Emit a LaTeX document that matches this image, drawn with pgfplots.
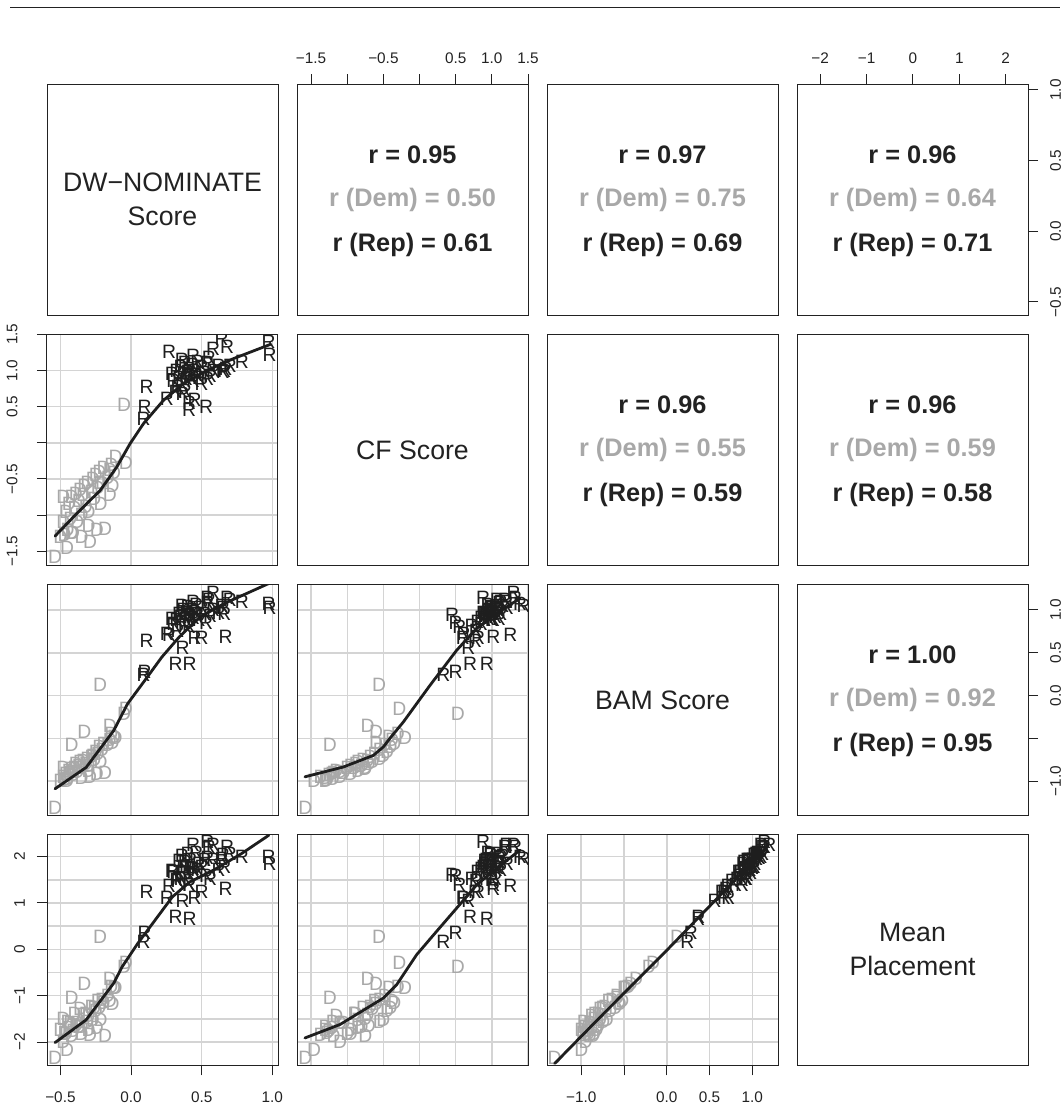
\documentclass[border=0pt]{standalone}
\usepackage{pgfplots}
\pgfplotsset{compat=1.18}
\usepackage{pgfplotstable}
\usepackage{fontspec}
\setmainfont{Liberation Sans}
\definecolor{axcol}{HTML}{222222}
\definecolor{demcol}{HTML}{A8A8A8}
\definecolor{repcol}{HTML}{1E1E1E}
\definecolor{gridcol}{HTML}{D4D4D4}
\newcommand\tickfont{\fontsize{11.5}{12}\selectfont}
\newcommand\markfont{\fontsize{14.5}{14.5}\selectfont}
\newcommand\rfont{\fontsize{19}{20}\selectfont\bfseries}
\newcommand\labfont{\fontsize{20}{25.5}\selectfont}

\pgfplotstableread{
dw cf bam mp
-0.538 -1.58 -1.31 -2.34
-0.453 -1.46 -1.00 -2.16
-0.500 -1.30 -1.00 -1.73
-0.480 -1.10 -0.95 -1.99
-0.470 -1.28 -0.98 -1.79
-0.460 -0.95 -0.92 -1.83
-0.450 -1.20 -0.97 -1.57
-0.440 -0.85 -0.88 -1.70
-0.430 -1.05 -0.90 -1.59
-0.420 -0.75 -0.86 -1.87
-0.410 -1.25 -0.93 -1.75
-0.400 -0.90 -0.84 -1.38
-0.390 -0.70 -0.80 -1.65
-0.380 -1.10 -0.89 -1.59
-0.370 -0.80 -0.82 -1.66
-0.360 -0.65 -0.78 -1.29
-0.350 -1.00 -0.85 -1.82
-0.340 -0.72 -0.76 -1.41
-0.330 -0.60 -0.42 -0.74
-0.320 -0.88 -0.80 -1.38
-0.310 -0.55 -0.74 -1.57
-0.300 -1.15 -0.88 -1.43
-0.290 -1.37 -0.95 -1.85
-0.280 -0.68 -0.72 -1.25
-0.270 -0.50 -0.70 -1.52
-0.260 -0.78 -0.75 -1.26
-0.250 -0.45 -0.66 -1.32
-0.243 -1.21 -0.92 -1.69
-0.235 -0.62 -0.68 -1.12
-0.225 -0.40 -0.60 -1.27
-0.215 -0.85 -0.78 -1.52
-0.205 -0.55 -0.64 -1.08
-0.195 -0.35 -0.56 -1.15
-0.184 -1.19 -0.90 -1.87
-0.150 -0.72 -0.36 -0.64
-0.165 -0.48 -0.58 -1.01
-0.150 -0.38 -0.52 -1.10
-0.140 -0.30 -0.45 -0.80
-0.130 -0.60 -0.55 -1.18
-0.120 -0.42 -0.48 -0.84
-0.110 -0.20 -0.50 -0.82
-0.220 -0.56 0.12 0.27
-0.037 -0.28 -0.16 -0.30
-0.050 0.53 -0.21 -0.37
-0.480 -0.75 -0.85 -1.50
-0.350 -1.30 -0.96 -1.68
-0.300 -0.95 -0.82 -1.74
-0.420 -1.24 -0.58 -1.04
}\dem

\pgfplotstableread{
dw cf bam mp
0.088 0.33 0.24 0.17
0.095 0.50 0.28 0.36
0.110 0.77 0.644 1.24
0.253 0.61 0.72 1.10
0.270 1.255 0.71 1.36
0.289 0.95 0.90 1.70
0.316 0.70 0.37 0.71
0.414 0.93 0.37 0.66
0.365 0.675 0.56 1.05
0.410 0.45 0.94 1.60
0.532 0.50 0.85 1.58
0.680 1.32 1.14 2.21
0.700 1.07 1.12 2.05
0.785 1.12 1.10 2.00
0.973 1.39 1.07 1.99
0.980 1.21 1.03 1.85
0.540 0.88 1.14 2.31
0.580 1.30 1.20 2.25
0.640 1.44 1.05 1.95
0.450 0.60 0.67 1.10
0.500 0.81 0.67 1.25
0.670 1.02 0.69 1.30
0.300 0.85 0.84 1.68
0.320 1.00 0.88 1.50
0.340 0.90 0.95 1.91
0.350 1.05 0.92 1.53
0.360 0.80 0.86 1.67
0.370 0.95 1.00 1.78
0.380 1.10 0.90 1.89
0.390 0.88 0.97 1.77
0.400 0.98 1.04 2.06
0.410 1.02 0.88 1.40
0.420 0.92 0.94 1.92
0.430 1.08 1.00 1.76
0.440 0.85 0.91 1.74
0.450 1.00 0.98 1.66
0.460 0.94 1.06 2.07
0.470 1.12 0.95 1.71
0.480 0.90 0.89 1.85
0.500 1.05 1.02 1.78
0.520 0.97 0.96 1.94
0.540 1.10 1.08 1.97
0.560 0.92 0.93 1.53
0.580 1.00 1.00 1.94
0.620 1.06 0.97 1.72
0.380 0.72 0.82 1.52
0.410 0.55 0.80 1.40
0.360 1.15 1.05 2.02
0.550 1.18 1.12 2.20
0.330 0.78 0.76 1.48
0.650 0.98 1.02 2.04
0.440 1.20 1.10 2.25
0.660 0.99 0.95 1.78
}\rep

\pgfplotsset{
  panel/.style={scale only axis, width=173.25pt, height=173.25pt, anchor=north west,
    axis line style={draw=axcol, line width=0.75pt},
    tick style={draw=axcol, line width=0.75pt},
    major tick length=7.5pt, minor tick length=0pt, tick align=outside,
    ticklabel style={font=\tickfont, text=axcol},
    xtick=\empty, ytick=\empty, clip marker paths=true,
    grid style={draw=gridcol, line width=1.1pt},
    minor grid style={draw=gridcol, line width=1.1pt}},
  dwX/.style={xmin=-0.595, xmax=1.04},
  dwY/.style={ymin=-0.595, ymax=1.04},
  cfX/.style={xmin=-1.695, xmax=1.50},
  cfY/.style={ymin=-1.695, ymax=1.50},
  bamX/.style={xmin=-1.40, xmax=1.30},
  bamY/.style={ymin=-1.40, ymax=1.30},
  mpX/.style={xmin=-2.50, xmax=2.48},
  mpY/.style={ymin=-2.50, ymax=2.48},
  dwgX/.style={xtick={-0.5,0,0.5,1}},
  cfgX/.style={xtick={-1.5,-1,-0.5,0,0.5,1,1.5}},
  cfgY/.style={ytick={-1.5,-1,-0.5,0,0.5,1,1.5}},
  bamgX/.style={xtick={-1,-0.5,0,0.5,1}},
  bamgY/.style={ytick={-1,-0.5,0,0.5,1}},
  mpgY/.style={ytick={-2,-1,0,1,2}, minor ytick={-1.5,-0.5,0.5,1.5}},
  noxt/.style={xtick style={draw=none}, xticklabels={}},
  noyt/.style={ytick style={draw=none}, yticklabels={}},
  botx/.style={xtick pos=left, xticklabel pos=left, xticklabel shift=9pt},
  topx/.style={xtick pos=right, xticklabel pos=right, xticklabel shift=4.3pt},
  lefty/.style={ytick pos=left, yticklabel pos=left, yticklabel style={rotate=90, anchor=south}},
  righty/.style={ytick pos=right, yticklabel pos=right, yticklabel style={rotate=90, anchor=north}, yticklabel shift=5.5pt},
  dmark/.style={only marks, mark=text, text mark={\markfont D}, text mark as node=true, color=demcol},
  rmark/.style={only marks, mark=text, text mark={\markfont R}, text mark as node=true, color=repcol},
  lw/.style={color=repcol, line width=2.1pt, line join=round, line cap=round}
}

\newcommand{\rtexts}[3]{%
  \node[font=\rfont, text=axcol] at ([yshift=33.75pt]rel axis cs:0.5,0.5) {r = #1};
  \node[font=\rfont, text=demcol] at (rel axis cs:0.5,0.5) {r (Dem) = #2};
  \node[font=\rfont, text=axcol] at ([yshift=-33.75pt]rel axis cs:0.5,0.5) {r (Rep) = #3};}

\begin{document}
\begin{tikzpicture}
\useasboundingbox (0,0) rectangle (795pt,840pt);
\draw[axcol, line width=1.2pt] (7.5pt,834.4pt) -- (795pt,834.4pt);

% ---------- row 1
\begin{axis}[panel, at={(35.25pt,776.75pt)}, xmin=0, xmax=1, ymin=0, ymax=1]
\node[font=\labfont, text=axcol, align=center] at (rel axis cs:0.5,0.5) {DW−NOMINATE\\Score};
\end{axis}
\begin{axis}[panel, at={(222.75pt,776.75pt)}, cfX, ymin=0, ymax=1, cfgX, topx,
  xticklabels={{−1.5},{},{−0.5},{},{0.5},{1.0},{1.5}}]
\rtexts{0.95}{0.50}{0.61}
\end{axis}
\begin{axis}[panel, at={(410.25pt,776.75pt)}, xmin=0, xmax=1, ymin=0, ymax=1]
\rtexts{0.97}{0.75}{0.69}
\end{axis}
\begin{axis}[panel, at={(597.75pt,776.75pt)}, mpX, dwY, xtick={-2,-1,0,1,2}, topx,
  xticklabels={{−2},{−1},{0},{1},{2}}, ytick={-0.5,0,0.5,1}, righty,
  yticklabels={{−0.5},{0.0},{0.5},{1.0}}]
\rtexts{0.96}{0.64}{0.71}
\end{axis}

% ---------- row 2
\begin{axis}[panel, at={(35.25pt,589.25pt)}, dwX, cfY, dwgX, cfgY, grid=major, noxt, lefty,
  yticklabel shift=11pt,
  yticklabels={{−1.5},{},{−0.5},{},{0.5},{1.0},{1.5}}]
\addplot[dmark] table[x=dw, y=cf]{\dem};
\addplot[rmark] table[x=dw, y=cf]{\rep};
\addplot[lw] coordinates {(-0.538,-1.29) (-0.385,-0.98) (-0.219,-0.66) (-0.101,-0.335) (-0.007,-0.012) (0.088,0.265) (0.229,0.587) (0.371,0.818) (0.537,1.00) (0.725,1.164) (0.985,1.36)};
\end{axis}
\begin{axis}[panel, at={(222.75pt,589.25pt)}, xmin=0, xmax=1, ymin=0, ymax=1]
\node[font=\labfont, text=axcol] at (rel axis cs:0.5,0.5) {CF Score};
\end{axis}
\begin{axis}[panel, at={(410.25pt,589.25pt)}, xmin=0, xmax=1, ymin=0, ymax=1]
\rtexts{0.96}{0.55}{0.59}
\end{axis}
\begin{axis}[panel, at={(597.75pt,589.25pt)}, xmin=0, xmax=1, ymin=0, ymax=1]
\rtexts{0.96}{0.59}{0.58}
\end{axis}

% ---------- row 3
\begin{axis}[panel, at={(35.25pt,401.75pt)}, dwX, bamY, dwgX, bamgY, grid=major, noxt, noyt]
\addplot[dmark] table[x=dw, y=bam]{\dem};
\addplot[rmark] table[x=dw, y=bam]{\rep};
\addplot[lw] coordinates {(-0.538,-1.09) (-0.318,-0.84) (-0.123,-0.41) (-0.025,-0.097) (0.097,0.176) (0.218,0.45) (0.34,0.683) (0.487,0.917) (0.658,1.074) (0.975,1.31)};
\end{axis}
\begin{axis}[panel, at={(222.75pt,401.75pt)}, cfX, bamY, cfgX, bamgY, grid=major, noxt, noyt]
\addplot[dmark] table[x=cf, y=bam]{\dem};
\addplot[rmark] table[x=cf, y=bam]{\rep};
\addplot[lw] coordinates {(-1.585,-0.95) (-1.054,-0.835) (-0.64,-0.70) (-0.50,-0.60) (-0.41,-0.50) (-0.225,-0.31) (0.145,0.12) (0.514,0.53) (0.79,0.785) (1.067,0.96) (1.39,1.136)};
\end{axis}
\begin{axis}[panel, at={(410.25pt,401.75pt)}, xmin=0, xmax=1, ymin=0, ymax=1]
\node[font=\labfont, text=axcol] at (rel axis cs:0.5,0.5) {BAM Score};
\end{axis}
\begin{axis}[panel, at={(597.75pt,401.75pt)}, xmin=0, xmax=1, bamY, bamgY, righty,
  yticklabels={{−1.0},{},{0.0},{0.5},{1.0}}]
\rtexts{1.00}{0.92}{0.95}
\end{axis}

% ---------- row 4
\begin{axis}[panel, at={(35.25pt,214.25pt)}, dwX, mpY, dwgX, mpgY, grid=both, botx,
  xticklabels={{−0.5},{0.0},{0.5},{1.0}}, lefty, yticklabel shift=5.5pt,
  yticklabels={{−2},{−1},{0},{1},{2}}]
\addplot[dmark] table[x=dw, y=mp]{\dem};
\addplot[rmark] table[x=dw, y=mp]{\rep};
\addplot[lw] coordinates {(-0.538,-2.01) (-0.318,-1.52) (-0.123,-0.73) (-0.062,-0.37) (0.048,0.13) (0.17,0.63) (0.292,1.13) (0.414,1.45) (0.585,1.71) (0.78,2.06) (0.975,2.46)};
\end{axis}
\begin{axis}[panel, at={(222.75pt,214.25pt)}, cfX, mpY, cfgX, mpgY, grid=both, noxt, noyt]
\addplot[dmark] table[x=cf, y=mp]{\dem};
\addplot[rmark] table[x=cf, y=mp]{\rep};
\addplot[lw] coordinates {(-1.585,-1.91) (-1.10,-1.62) (-0.50,-1.05) (-0.316,-0.76) (-0.04,-0.115) (0.237,0.39) (0.514,0.89) (0.79,1.39) (1.067,1.75) (1.39,2.14)};
\end{axis}
\begin{axis}[panel, at={(410.25pt,214.25pt)}, bamX, mpY, bamgX, mpgY, grid=both, botx,
  xticklabels={{−1.0},{},{0.0},{0.5},{1.0}}, noyt]
\addplot[dmark] table[x=bam, y=mp]{\dem};
\addplot[rmark] table[x=bam, y=mp]{\rep};
\addplot[lw] coordinates {(-1.31,-2.46) (-0.8,-1.50) (-0.4,-0.76) (0,-0.02) (0.4,0.74) (0.8,1.50) (1.17,2.20)};
\end{axis}
\begin{axis}[panel, at={(597.75pt,214.25pt)}, xmin=0, xmax=1, ymin=0, ymax=1]
\node[font=\labfont, text=axcol, align=center] at (rel axis cs:0.5,0.5) {Mean\\Placement};
\end{axis}
\end{tikzpicture}
\end{document}
